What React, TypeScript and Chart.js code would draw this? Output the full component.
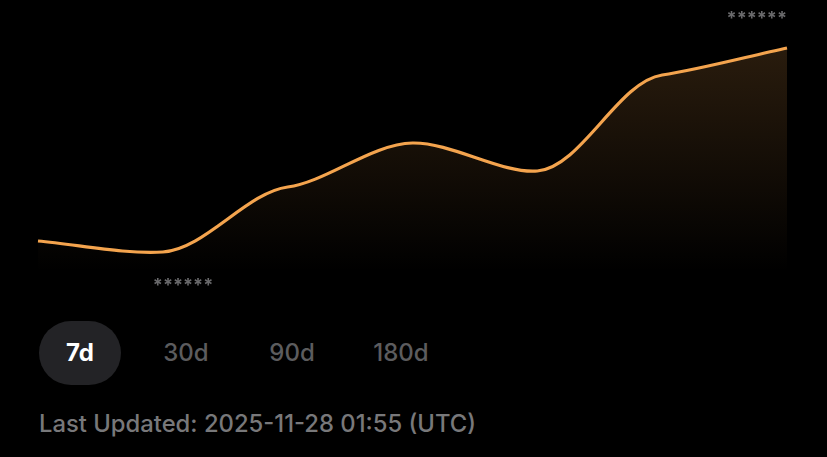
import React, { useEffect, useRef } from "react";
import { Chart, registerables } from "chart.js";

Chart.register(...registerables);

const categories = ["Day 1", "Day 2", "Day 3", "Day 4", "Day 5", "Day 6", "Day 7"];
const values = [59, 48, 113, 157, 129, 225, 252];
const maskedLabel = "******";
const ranges = ["7d", "30d", "90d", "180d"];
const updatedText = "Last Updated: 2025-11-28 01:55 (UTC)";

// Flatten the tangents at interior points (shoulder-style smoothing)
const softenPlugin = {
  id: "softenCurve",
  beforeDatasetsDraw(chart: any) {
    const meta = chart.getDatasetMeta(0);
    const line = meta.dataset;
    if (!line) return;
    line._pointsUpdated = false;
    line.updateControlPoints(chart.chartArea, "x");
    const pts = meta.data;
    const k = 0.3;
    pts.forEach((p: any, i: number) => {
      if (i === 0 || i === pts.length - 1) return;
      p.cp1y = p.y + (p.cp1y - p.y) * k;
      p.cp2y = p.y + (p.cp2y - p.y) * k;
    });
    line._path = undefined;
  },
};

const minMaxPlugin = {
  id: "minMaxLabels",
  afterDatasetsDraw(chart: any) {
    const meta = chart.getDatasetMeta(0);
    const data = chart.data.datasets[0].data as number[];
    let minI = 0, maxI = 0;
    data.forEach((v, i) => {
      if (v < data[minI]) minI = i;
      if (v > data[maxI]) maxI = i;
    });
    const ctx = chart.ctx;
    ctx.save();
    ctx.fillStyle = "#6a6a6c";
    ctx.font = "bold 18px Inter, 'DejaVu Sans', sans-serif";
    ctx.textBaseline = "middle";
    const pMax = meta.data[maxI];
    ctx.textAlign = "right";
    ctx.fillText(maskedLabel, pMax.x, pMax.y - 29);
    const pMin = meta.data[minI];
    ctx.textAlign = "left";
    ctx.fillText(maskedLabel, pMin.x - 10, pMin.y + 34);
    ctx.restore();
  },
};

export default function App() {
  const ref = useRef<HTMLCanvasElement | null>(null);
  useEffect(() => {
    if (!ref.current) return;
    const chart = new Chart(ref.current, {
      type: "line",
      data: {
        labels: categories,
        datasets: [
          {
            data: values,
            borderColor: "#f4a44e",
            borderWidth: 3.2,
            pointRadius: 0,
            tension: 0.32,
            fill: "start",
            backgroundColor: (c: any) => {
              const ca = c.chart.chartArea;
              if (!ca) return "rgba(0,0,0,0)";
              const g = c.chart.ctx.createLinearGradient(0, 48, 0, 272);
              g.addColorStop(0, "rgba(244,164,78,0.17)");
              g.addColorStop(1, "rgba(244,164,78,0)");
              return g;
            },
          },
        ],
      },
      options: {
        animation: false,
        responsive: false,
        maintainAspectRatio: false,
        layout: { padding: { left: 38, right: 40, top: 0, bottom: 0 } },
        plugins: { legend: { display: false }, tooltip: { enabled: false } },
        scales: {
          x: { display: false },
          y: { display: false, min: 0, max: 300 },
        },
      },
      plugins: [softenPlugin, minMaxPlugin],
    });
    return () => chart.destroy();
  }, []);

  const font = "Inter, 'Noto Sans', sans-serif";
  const centers = [80, 186, 292, 401];
  return (
    <div style={{ position: "fixed", inset: 0, background: "#000", overflow: "hidden", fontFamily: font }}>
      <canvas ref={ref} width={827} height={300} style={{ position: "absolute", left: 0, top: 0, width: 827, height: 300 }} />
      <div style={{ position: "absolute", left: 39, top: 321, width: 82, height: 64, borderRadius: 32, background: "#232326" }} />
      {ranges.map((r, i) => (
        <div
          key={r}
          style={{
            position: "absolute",
            left: centers[i] - 50,
            width: 100,
            top: 337,
            height: 32,
            lineHeight: "32px",
            textAlign: "center",
            fontSize: 24,
            fontWeight: i === 0 ? 700 : 500,
            color: i === 0 ? "#ffffff" : "#5c5c5e",
          }}
        >
          {r}
        </div>
      ))}
      <div style={{ position: "absolute", left: 39, top: 408, fontSize: 23.8, fontWeight: 500, color: "#78787a", lineHeight: "32px", whiteSpace: "nowrap" }}>
        {updatedText}
      </div>
    </div>
  );
}
